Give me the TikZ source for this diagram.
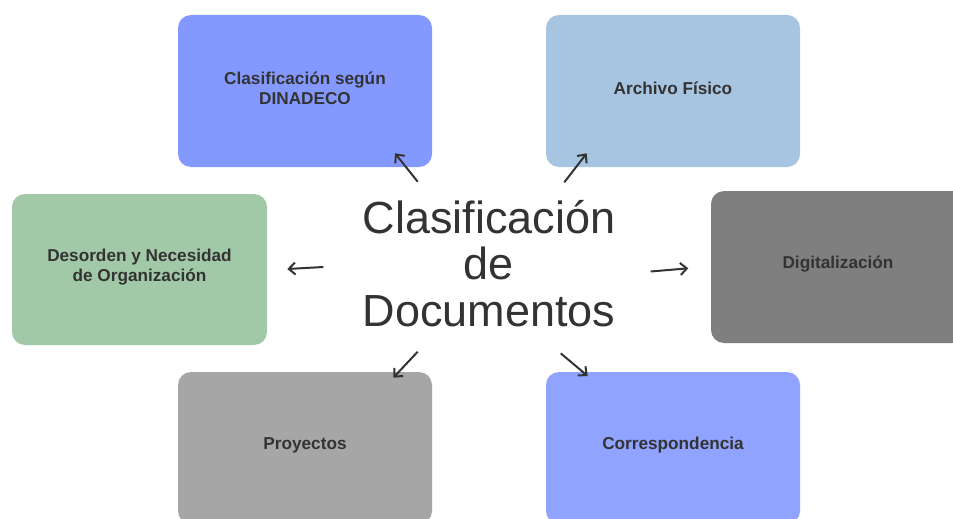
\documentclass[tikz,border=0pt]{standalone}
\usepackage{fontspec}
\setmainfont{Liberation Sans}
\usetikzlibrary{arrows.meta}
\definecolor{cTL}{HTML}{8499FF}
\definecolor{cTR}{HTML}{A7C4E0}
\definecolor{cL}{HTML}{A1C9A7}
\definecolor{cR}{HTML}{7F7F7F}
\definecolor{cBL}{HTML}{A6A6A6}
\definecolor{cBR}{HTML}{8FA3FF}
\definecolor{ink}{HTML}{333333}
\tikzset{
  card/.style={rectangle, rounded corners=13pt, minimum width=254pt, minimum height=152pt,
    inner sep=0pt},
  cardtext/.style={label={[text=ink, align=center, yshift=2.5pt, inner sep=0pt,
    font=\fontsize{17.2}{20}\selectfont\bfseries]center:{#1}}},
  conn/.style={draw=ink, line width=2pt, -{Straight Barb[length=6.5pt,width=12pt,line width=2pt]}},
  title/.style={align=center, text=ink, font=\fontsize{45}{46.5}\selectfont}
}
\begin{document}
\begin{tikzpicture}[x=1pt,y=-1pt]
\useasboundingbox[fill=white] (0,0) rectangle (953,519);
\clip (0,0) rectangle (953,519);
\node[card, fill=cTL, cardtext={Clasificación según\\DINADECO}] (tl) at (305,91) {};
\node[card, fill=cTR, cardtext={Archivo Físico}] (tr) at (673,91) {};
\node[card, fill=cL, minimum width=255pt, minimum height=151pt, cardtext={Desorden y Necesidad\\de Organización}] (l) at (139.5,269.5) {};
\node[card, fill=cR, cardtext={Digitalización}] (r) at (838,267) {};
\node[card, fill=cBL, cardtext={Proyectos}] (bl) at (305,448) {};
\node[card, fill=cBR, cardtext={Correspondencia}] (br) at (673,448) {};
\node[title] (c) at (489,263.5) {Clasificación\\de\\Documentos};
\coordinate (a1s) at (417.7,181.7); \coordinate (a1e) at (395,153.3);
\coordinate (a2s) at (564.3,182.3); \coordinate (a2e) at (586.7,153.3);
\coordinate (a3s) at (323.3,267);   \coordinate (a3e) at (287.3,269);
\coordinate (a4s) at (650.7,271.5); \coordinate (a4e) at (688.3,268.3);
\coordinate (a5s) at (417.7,351.7); \coordinate (a5e) at (393.3,377.7);
\coordinate (a6s) at (560.7,353.3); \coordinate (a6e) at (587.7,376);
\draw[conn] (a1s) -- (a1e);
\draw[conn] (a2s) -- (a2e);
\draw[conn] (a3s) -- (a3e);
\draw[conn] (a4s) -- (a4e);
\draw[conn] (a5s) -- (a5e);
\draw[conn] (a6s) -- (a6e);
\end{tikzpicture}
\end{document}
